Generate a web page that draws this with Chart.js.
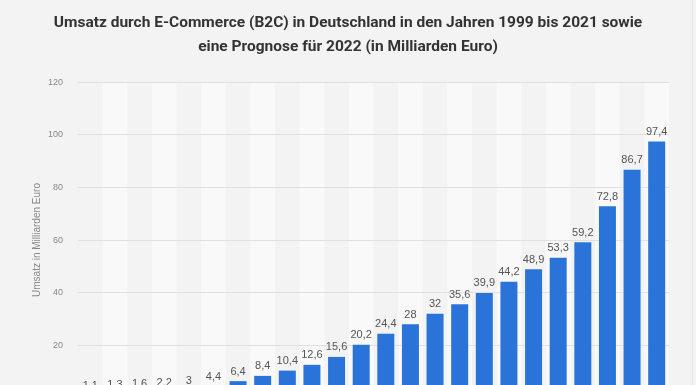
<!DOCTYPE html>
<html>
<head>
<meta charset="utf-8">
<script src="https://cdn.jsdelivr.net/npm/chart.js@4.4.1/dist/chart.umd.min.js"></script>
<style>
  html, body { margin: 0; padding: 0; background: #f3f3f3; overflow: hidden; }
  #wrap { position: relative; width: 696px; height: 420px; }
</style>
</head>
<body>
<div id="wrap"><canvas id="c" width="696" height="420"></canvas></div>
<script>
const years = ["1999","2000","2001","2002","2003","2004","2005","2006","2007","2008","2009","2010","2011","2012","2013","2014","2015","2016","2017","2018","2019","2020","2021","2022*"];
const revenue = [1.1, 1.3, 1.6, 2.2, 3, 4.4, 6.4, 8.4, 10.4, 12.6, 15.6, 20.2, 24.4, 28, 32, 35.6, 39.9, 44.2, 48.9, 53.3, 59.2, 72.8, 86.7, 97.4];
const yTicks = [0, 20, 40, 60, 80, 100, 120];
const titleLines = ["Umsatz durch E-Commerce (B2C) in Deutschland in den Jahren 1999 bis 2021 sowie", "eine Prognose für 2022 (in Milliarden Euro)"];
const yTitle = "Umsatz in Milliarden Euro";

const FONT = "'Liberation Sans', Arial, Helvetica, sans-serif";
const TFONT = "Roboto, 'Liberation Sans', Arial, sans-serif";

const bgPlugin = {
  id: 'bg',
  beforeDraw(chart) {
    const { ctx, chartArea, scales } = chart;
    ctx.save();
    ctx.fillStyle = '#f3f3f3';
    ctx.fillRect(0, 0, chart.width, chart.height);
    const x = scales.x;
    const w = (chartArea.right - chartArea.left) / years.length;
    ctx.fillStyle = '#f9f9f9';
    years.forEach((_, i) => {
      if (i % 2 === 1) {
        const cx = x.getPixelForValue(i);
        ctx.fillRect(cx - w / 2, chartArea.top, w, chartArea.bottom - chartArea.top);
      }
    });
    ctx.strokeStyle = '#e6e6e6';
    ctx.lineWidth = 1;
    ctx.beginPath();
    ctx.moveTo(692.5, 0);
    ctx.lineTo(692.5, chart.height);
    ctx.stroke();
    ctx.restore();
  }
};

const labelPlugin = {
  id: 'vals',
  afterDatasetsDraw(chart) {
    const { ctx } = chart;
    const meta = chart.getDatasetMeta(0);
    ctx.save();
    ctx.font = "11px " + FONT;
    ctx.fillStyle = '#555555';
    ctx.textAlign = 'center';
    ctx.textBaseline = 'bottom';
    meta.data.forEach((bar, i) => {
      const txt = String(revenue[i]).replace('.', ',');
      ctx.fillText(txt, bar.x, bar.y - 4);
    });
    ctx.restore();
  }
};

new Chart(document.getElementById('c'), {
  type: 'bar',
  data: {
    labels: years,
    datasets: [{
      data: revenue,
      backgroundColor: '#2a74d9',
      borderWidth: 0,
      categoryPercentage: 1,
      barPercentage: 0.69
    }]
  },
  options: {
    responsive: false,
    animation: false,
    devicePixelRatio: 1,
    layout: { padding: { left: 0, right: 0, top: 0, bottom: 22 } },
    plugins: {
      legend: { display: false },
      tooltip: { enabled: false },
      title: {
        display: true,
        text: titleLines,
        color: '#333333',
        font: { family: TFONT, size: 15.5, weight: 'bold', lineHeight: 1.55 },
        padding: { top: 11, bottom: 23 }
      }
    },
    scales: {
      x: {
        grid: { display: false, drawTicks: false },
        border: { display: false },
        ticks: { display: false }
      },
      y: {
        min: 0,
        max: 120,
        afterBuildTicks(scale) { scale.ticks = yTicks.map(v => ({ value: v })); },
        afterFit(scale) { scale.width = 78; },
        grid: { color: '#e0e0e0', drawTicks: false, lineWidth: 1 },
        border: { display: false },
        ticks: {
          padding: 15,
          color: '#888888',
          font: { family: FONT, size: 9 }
        },
        title: {
          display: true,
          text: yTitle,
          color: '#888888',
          font: { family: FONT, size: 10 },
          padding: { top: 31, bottom: 0 }
        }
      },
      yRight: {
        position: 'right',
        min: 0,
        max: 120,
        afterFit(scale) { scale.width = 27; },
        grid: { display: false, drawTicks: false },
        border: { display: false },
        ticks: { display: false }
      }
    }
  },
  plugins: [bgPlugin, labelPlugin]
});
</script>
</body>
</html>
